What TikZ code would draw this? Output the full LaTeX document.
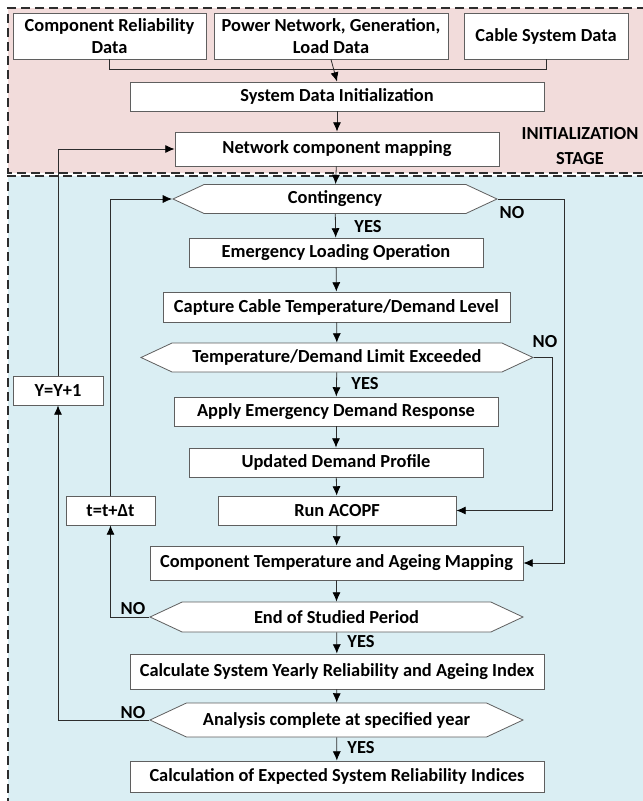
\documentclass[tikz,border=0pt]{standalone}
\usepackage{fontspec}
\setmainfont{Carlito}
\usetikzlibrary{arrows.meta}
\usetikzlibrary{shapes.symbols}

\definecolor{initpink}{RGB}{242,220,219}
\definecolor{loopblue}{RGB}{218,238,243}
\definecolor{edgegray}{RGB}{45,45,45}
\definecolor{boxgray}{RGB}{95,95,95}

\tikzset{
  wd/.style={minimum width=#1*0.75pt},
  ht/.style={minimum height=#1*0.75pt},
  box/.style={draw=boxgray, fill=white, rectangle, inner sep=1pt, align=center,
              font=\bfseries\fontsize{13.8}{16.5}\selectfont},
  decision/.style={box, signal, signal to=west and east, signal pointer angle=50},
  lbl/.style={font=\bfseries\fontsize{13.8}{16.5}\selectfont},
  arr/.style={-{Latex[length=7pt,width=6pt,color=black]}},
  stageborder/.style={draw=edgegray, line width=1.1pt, dash pattern=on 7pt off 3.5pt},
}

\begin{document}
\begin{tikzpicture}[x=0.75pt, y=-0.75pt, line width=0.6pt]

\useasboundingbox (0,0) rectangle (643,801);

% --- Stages ---
\fill[initpink] (8,8) rectangle (660,173);
\draw[stageborder] (660,8) -- (8,8) -- (8,173) -- (660,173);
\fill[loopblue] (8,176) rectangle (660,810);
\draw[stageborder] (660,176) -- (8,176) -- (8,810);

\node[lbl, font=\bfseries\fontsize{13.8}{18.75}\selectfont, align=center] (initstage) at (580,146) {INITIALIZATION\\STAGE};

% --- Input data ---
\node[box, wd=193, ht=46] (comprel) at (109.5,36) {Component Reliability\\Data};
\node[box, wd=234, ht=46] (powernet) at (331,36) {Power Network, Generation,\\Load Data};
\node[box, wd=164, ht=46] (cabledata) at (546,36) {Cable System Data};

\node[box, wd=414, ht=29] (sysinit) at (337,96.5) {System Data Initialization};
\node[box, wd=324, ht=34] (netmap) at (337,149) {Network component mapping};

% --- Loop ---
\node[decision, wd=324, ht=29] (contingency) at (335,199) {Contingency};
\node[box, wd=294, ht=29] (emload) at (336,252.5) {Emergency Loading Operation};
\node[box, wd=347, ht=30] (capture) at (336.5,307) {Capture Cable Temperature/Demand Level};
\node[decision, wd=392, ht=29] (limit) at (337,357.5) {Temperature/Demand Limit Exceeded};
\node[box, wd=324, ht=29] (applydr) at (336,411.5) {Apply Emergency Demand Response};
\node[box, wd=294, ht=29] (updprofile) at (336,462.5) {Updated Demand Profile};
\node[box, wd=238, ht=29] (acopf) at (337,510.5) {Run ACOPF};
\node[box, wd=373, ht=34] (agemap) at (336.5,563) {Component Temperature and Ageing Mapping};
\node[decision, wd=373, ht=30] (endperiod) at (336.5,617) {End of Studied Period};
\node[box, wd=414, ht=35] (yearly) at (337,671.5) {Calculate System Yearly Reliability and Ageing Index};
\node[decision, wd=373, ht=34] (analysis) at (336.5,720) {Analysis complete at specified year};
\node[box, wd=414, ht=31] (expected) at (337,776.5) {Calculation of Expected System Reliability Indices};

\node[box, wd=89, ht=29] (tstep) at (110.5,510.5) {t=t+Δt};
\node[box, wd=90, ht=29] (ystep) at (58,390.5) {Y=Y+1};

% labels
\node[lbl] (yes1) at (368,227) {YES};
\node[lbl] (yes2) at (365,384) {YES};
\node[lbl] (yes3) at (361,642) {YES};
\node[lbl] (yes4) at (361,748) {YES};
\node[lbl] (no1) at (512,213) {NO};
\node[lbl] (no2) at (545,342) {NO};
\node[lbl] (no3) at (133,609) {NO};
\node[lbl] (no4) at (133,713) {NO};

% --- Connectors ---
\draw[edgegray] (comprel.south) -- ++(0,10) -| (cabledata.south);
\draw[edgegray, arr] (powernet.south) -- (sysinit.north);
\draw[edgegray, arr] (sysinit) -- (netmap);
\draw[edgegray, arr] (netmap) -- (contingency);
\draw[edgegray, arr] (contingency) -- (emload);
\draw[edgegray, arr] (emload) -- (capture);
\draw[edgegray, arr] (capture) -- (limit);
\draw[edgegray, arr] (limit) -- (applydr);
\draw[edgegray, arr] (applydr) -- (updprofile);
\draw[edgegray, arr] (updprofile) -- (acopf);
\draw[edgegray, arr] (acopf) -- (agemap);
\draw[edgegray, arr] (agemap) -- (endperiod);
\draw[edgegray, arr] (endperiod) -- (yearly);
\draw[edgegray, arr] (yearly) -- (analysis);
\draw[edgegray, arr] (analysis) -- (expected);

% NO branches
\draw[edgegray, arr] (contingency.east) -- ++(66,0) |- (agemap.east);
\draw[edgegray, arr] (limit.east) -- ++(18,0) |- (acopf.east);
\draw[edgegray, arr] (endperiod.west) -| (tstep.south);
\draw[edgegray, arr] (tstep.north) |- (contingency.west);
\draw[edgegray, arr] (analysis.west) -| (ystep.south);
\draw[edgegray, arr] (ystep.north) |- (netmap.west);

\end{tikzpicture}
\end{document}
